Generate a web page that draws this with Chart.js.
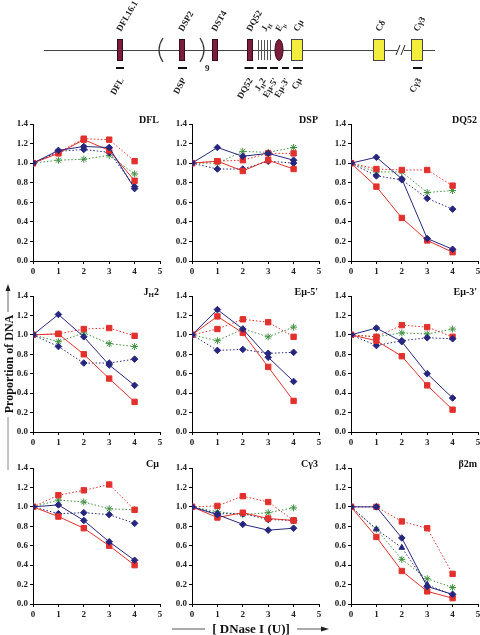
<!DOCTYPE html>
<html>
<head>
<meta charset="utf-8">
<script src="https://cdn.jsdelivr.net/npm/chart.js@4"></script>
<style>
  body { margin: 0; width: 480px; height: 635px; overflow: hidden; background: #fff; position: relative; font-family: "Liberation Serif", serif; }
  .box { position: absolute; }
  .lab { position: absolute; white-space: nowrap; font-weight: bold; color: #111; }
</style>
</head>
<body>
<div class="box" style="left:0;top:0;width:480px;height:100px"><canvas id="locus"></canvas></div>
<div id="panels"></div>
<svg class="box" style="left:0;top:0" width="480" height="635">
  <line x1="8" y1="290" x2="8" y2="312" stroke="#666" stroke-width="1"/>
  <polygon points="8,284 5.5,291 10.5,291" fill="#222"/>
  <line x1="8" y1="417" x2="8" y2="470" stroke="#888" stroke-width="1"/>
  <line x1="172" y1="629" x2="205" y2="629" stroke="#555" stroke-width="1"/>
  <line x1="297" y1="629" x2="322" y2="629" stroke="#555" stroke-width="1"/>
  <polygon points="329,629 321,626.5 321,631.5" fill="#222"/>
</svg>
<div class="lab" style="left:9px;top:364px;font-size:12px;transform:translate(-50%,-50%) rotate(-90deg)">Proportion of DNA</div>
<div class="lab" style="left:251px;top:629px;font-size:13px;transform:translate(-50%,-50%)">[ DNase I (U)]</div>

<script>
// DNase I doses (x) and tick values
const doses = [0, 1, 2, 3, 4];
const xTicks = [0, 1, 2, 3, 4, 5];
const yTicks = [0, 0.2, 0.4, 0.6, 0.8, 1.0, 1.2, 1.4];
const panelTitles = ['DFL', 'DSP', 'DQ52', 'J{H}2', "Eμ-5'", "Eμ-3'", 'Cμ', 'Cγ3', 'β2m'];

// one row per panel (in panel order), values at doses 0..4
const blueSolid = [
  [1.00, 1.13, 1.17, 1.16, 0.74],
  [1.00, 1.16, 1.07, 1.10, 1.03],
  [1.00, 1.06, 0.84, 0.23, 0.12],
  [1.00, 1.21, 0.98, 0.69, 0.48],
  [1.00, 1.26, 1.06, 0.77, 0.52],
  [1.00, 1.07, 0.93, 0.60, 0.35],
  [1.00, 1.02, 0.86, 0.64, 0.45],
  [1.00, 0.92, 0.82, 0.76, 0.78],
  [1.00, 1.00, 0.68, 0.18, 0.10]
];
const redSolid = [
  [1.00, 1.10, 1.24, 1.13, 0.82],
  [1.00, 1.02, 0.92, 1.03, 0.94],
  [1.00, 0.76, 0.44, 0.21, 0.09],
  [1.00, 1.01, 0.80, 0.55, 0.31],
  [1.00, 1.19, 1.02, 0.67, 0.32],
  [1.00, 0.94, 0.78, 0.48, 0.23],
  [1.00, 0.90, 0.78, 0.60, 0.40],
  [1.00, 0.89, 0.94, 0.88, 0.86],
  [1.00, 0.69, 0.34, 0.13, 0.06]
];
const blueDotted = [
  [1.00, 1.12, 1.14, 1.11, 0.76],
  [1.00, 0.94, 0.94, 1.02, 1.00],
  [1.00, 0.87, 0.83, 0.64, 0.53],
  [1.00, 0.88, 0.71, 0.71, 0.75],
  [1.00, 0.84, 0.85, 0.81, 0.82],
  [1.00, 0.89, 0.94, 0.97, 0.96],
  [1.00, 0.93, 0.94, 0.92, 0.83],
  [1.00, 0.93, 0.93, 0.87, 0.86],
  [1.00, 0.77, 0.58, 0.20, 0.09]
];
const redDotted = [
  [1.00, 1.11, 1.25, 1.24, 1.02],
  [1.00, 1.02, 1.03, 1.10, 1.10],
  [1.00, 0.94, 0.93, 0.93, 0.77],
  [1.00, 1.01, 1.06, 1.07, 0.99],
  [1.00, 1.06, 1.16, 1.13, 0.98],
  [1.00, 0.98, 1.10, 1.08, 0.98],
  [1.00, 1.12, 1.17, 1.23, 0.97],
  [1.00, 1.01, 1.11, 1.05, 0.86],
  [1.00, 1.00, 0.85, 0.78, 0.31]
];
const greenDotted = [
  [1.00, 1.03, 1.04, 1.08, 0.89],
  [1.00, 1.00, 1.12, 1.11, 1.16],
  [1.00, 0.91, 0.91, 0.70, 0.72],
  [1.00, 0.93, 1.02, 0.91, 0.88],
  [1.00, 0.94, 1.06, 0.98, 1.08],
  [1.00, 0.98, 1.02, 1.01, 1.06],
  [1.00, 1.07, 1.05, 0.98, 0.97],
  [1.00, 0.95, 0.92, 0.94, 0.99],
  [1.00, 0.77, 0.46, 0.26, 0.17]
];

// locus map (x in map units, same as page px)
const vGenes = [['DFL16.1', 120], ['DSP2', 182], ['DST4', 215], ['DQ52', 250]];
const jhSegs = [258, 261, 264, 267, 270];
const enhancer = ['E{μ}', 279];
const cGenes = [['Cμ', 297], ['Cδ', 379], ['Cγ3', 417]];
const probes = [['DFL', 120, 4], ['DSP', 182.5, 4.5], ['DQ52', 249, 4.5], ['J{H}2', 262, 5],
  ["Eμ-5'", 274, 4], ["Eμ-3'", 285.5, 3.5], ['Cμ', 298, 5], ['Cγ3', 417.5, 4.5]];

const BLUE = '#26267e', RED = '#e2312d', GREEN = '#3f8f3f';
const FONT = 'Liberation Serif';

function drawRich(ctx, str, x, y, size, align) {
  const segs = str.split(/(\{[^}]*\})/).filter(s => s).map(s =>
    s[0] === '{' ? { t: s.slice(1, -1), sub: true } : { t: s, sub: false });
  const font = sub => `bold ${sub ? Math.round(size * 0.72) : size}px "${FONT}"`;
  let w = 0;
  segs.forEach(s => { ctx.font = font(s.sub); s.w = ctx.measureText(s.t).width; w += s.w; });
  let cx = align === 'right' ? x - w : x;
  ctx.textAlign = 'left';
  segs.forEach(s => {
    ctx.font = font(s.sub);
    ctx.fillText(s.t, cx, y + (s.sub ? size * 0.3 : 0));
    cx += s.w;
  });
}

// ---- locus diagram ----
new Chart(document.getElementById('locus'), {
  type: 'scatter',
  data: { datasets: [] },
  options: {
    responsive: true, maintainAspectRatio: false, animation: false,
    layout: { padding: 0 },
    scales: {
      x: { display: false, min: 0, max: 480 },
      y: { display: false, min: 0, max: 100, reverse: true }
    },
    plugins: { legend: { display: false }, tooltip: { enabled: false } }
  },
  plugins: [{
    id: 'locusMap',
    afterDraw(chart) {
      const c = chart.ctx;
      const X = v => chart.scales.x.getPixelForValue(v);
      const Y = v => chart.scales.y.getPixelForValue(v);
      c.save();
      // backbone
      c.strokeStyle = '#444'; c.lineWidth = 1;
      c.beginPath(); c.moveTo(X(44), Y(50) + 0.5); c.lineTo(X(435), Y(50) + 0.5); c.stroke();
      c.fillStyle = '#fff'; c.fillRect(X(397), Y(47), X(404) - X(397), 6);
      c.strokeStyle = '#222';
      [[396, 400], [401, 405]].forEach(([a, b]) => {
        c.beginPath(); c.moveTo(X(a), Y(55)); c.lineTo(X(b), Y(45)); c.stroke();
      });
      // DSP repeat brackets
      c.strokeStyle = '#333'; c.lineWidth = 1.2;
      c.beginPath(); c.moveTo(X(163), Y(38)); c.quadraticCurveTo(X(155), Y(50), X(163), Y(62)); c.stroke();
      c.beginPath(); c.moveTo(X(200), Y(38)); c.quadraticCurveTo(X(208), Y(50), X(200), Y(62)); c.stroke();
      c.fillStyle = '#222'; c.textBaseline = 'alphabetic';
      drawRich(c, '9', X(205), Y(71), 9, 'left');
      // V/D segments
      c.lineWidth = 1;
      vGenes.forEach(([, x]) => {
        c.fillStyle = '#7b1e3c'; c.strokeStyle = '#3a0a1a';
        c.fillRect(X(x - 3), Y(39), 6, 22); c.strokeRect(X(x - 3) + 0.5, Y(39) + 0.5, 5, 21);
      });
      // JH segments
      c.strokeStyle = '#555';
      jhSegs.forEach(x => { c.beginPath(); c.moveTo(X(x) + 0.5, Y(40)); c.lineTo(X(x) + 0.5, Y(60)); c.stroke(); });
      // enhancer
      c.fillStyle = '#7b1e3c'; c.strokeStyle = '#3a0a1a';
      c.beginPath(); c.ellipse(X(enhancer[1]), Y(50), 4, 10.5, 0, 0, Math.PI * 2); c.fill(); c.stroke();
      // constant regions
      cGenes.forEach(([, x]) => {
        c.fillStyle = '#f3ee3c'; c.strokeStyle = '#444';
        c.fillRect(X(x - 6), Y(39), 12, 22); c.strokeRect(X(x - 6) + 0.5, Y(39) + 0.5, 11, 21);
      });
      // probes
      c.fillStyle = '#111';
      probes.forEach(([, x, hw]) => c.fillRect(X(x - hw), Y(67), X(x + hw) - X(x - hw), 2));
      // labels above
      c.fillStyle = '#222';
      const top = [...vGenes, ['J{H}', 265], enhancer, ...cGenes];
      top.forEach(([name, x]) => {
        c.save(); c.translate(X(x) + 1, Y(32)); c.rotate(-Math.PI / 3);
        drawRich(c, name, 0, 0, 9, 'left'); c.restore();
      });
      // labels below
      probes.forEach(([name, x]) => {
        c.save(); c.translate(X(x) + 4, Y(80)); c.rotate(-Math.PI / 3);
        drawRich(c, name, 0, 0, 9, 'right'); c.restore();
      });
      c.restore();
    }
  }]
});

// ---- 3x3 panels ----
const colLeft = [33, 192, 351];
const rowTop = [124, 296, 468];
const rowH = [137, 136, 136];
const PLOT_W = 127, Y_AXIS_W = 25, X_AXIS_H = 16, PAD_TOP = 14, PAD_R = 5;

function series(row, color, dotted, style, radius) {
  return {
    data: doses.map((d, j) => ({ x: d, y: row[j] })),
    showLine: true,
    borderColor: color, backgroundColor: color,
    borderWidth: 1, borderDash: dotted ? [1.5, 2] : [],
    pointStyle: style, pointRadius: radius, pointBorderWidth: 1,
    pointBackgroundColor: color, pointBorderColor: color
  };
}

const axisCommon = {
  grid: { drawOnChartArea: false, drawTicks: true, tickLength: 3, color: '#000' },
  border: { display: true, color: '#000', width: 1 },
  ticks: { color: '#222', font: { family: FONT, weight: 'bold', size: 9 }, padding: 2 }
};

panelTitles.forEach((title, i) => {
  const col = i % 3, row = Math.floor(i / 3);
  const wrap = document.createElement('div');
  wrap.className = 'box';
  wrap.style.left = (colLeft[col] - Y_AXIS_W) + 'px';
  wrap.style.top = (rowTop[row] - PAD_TOP) + 'px';
  wrap.style.width = (PLOT_W + Y_AXIS_W + PAD_R) + 'px';
  wrap.style.height = (rowH[row] + PAD_TOP + X_AXIS_H) + 'px';
  const cv = document.createElement('canvas');
  wrap.appendChild(cv);
  document.getElementById('panels').appendChild(wrap);

  new Chart(cv, {
    type: 'scatter',
    data: {
      datasets: [
        series(blueSolid[i], BLUE, false, 'rectRot', 3.3),
        series(redSolid[i], RED, false, 'rect', 3.8),
        series(blueDotted[i], BLUE, true, i === 8 ? 'triangle' : 'rectRot', 3.3),
        series(redDotted[i], RED, true, 'rect', 3.8),
        series(greenDotted[i], GREEN, true, 'star', 3.5)
      ]
    },
    options: {
      responsive: true, maintainAspectRatio: false, animation: false,
      layout: { padding: { top: PAD_TOP, right: PAD_R, left: 0, bottom: 0 } },
      scales: {
        x: {
          ...axisCommon, type: 'linear', min: 0, max: 5,
          afterBuildTicks: s => { s.ticks = xTicks.map(v => ({ value: v })); },
          afterFit: s => { s.height = X_AXIS_H; }
        },
        y: {
          ...axisCommon, min: 0, max: 1.4,
          ticks: { ...axisCommon.ticks, callback: v => v.toFixed(1) },
          afterBuildTicks: s => { s.ticks = yTicks.map(v => ({ value: v })); },
          afterFit: s => { s.width = Y_AXIS_W; }
        }
      },
      plugins: { legend: { display: false }, tooltip: { enabled: false } }
    },
    plugins: [{
      id: 'panelTitle',
      afterDraw(chart) {
        const c = chart.ctx, a = chart.chartArea;
        c.save(); c.fillStyle = '#111'; c.textBaseline = 'middle';
        drawRich(c, title, a.right - 1, a.top - 4, 10, 'right');
        c.restore();
      }
    }]
  });
});
</script>
</body>
</html>
